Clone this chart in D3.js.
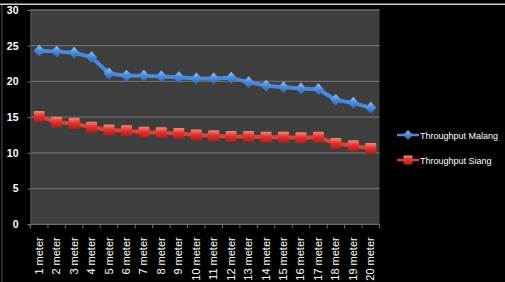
<!DOCTYPE html>
<html><head><meta charset="utf-8">
<script src="https://cdn.jsdelivr.net/npm/d3@7"></script>
<style>
html,body{margin:0;padding:0;background:#000;overflow:hidden;}
svg{display:block;}
</style></head>
<body>
<script>
const categories = ["1 meter","2 meter","3 meter","4 meter","5 meter","6 meter","7 meter","8 meter","9 meter","10 meter","11 meter","12 meter","13 meter","14 meter","15 meter","16 meter","17 meter","18 meter","19 meter","20 meter"];
const malang = [24.3,24.2,24.0,23.4,21.1,20.8,20.8,20.7,20.6,20.4,20.4,20.5,19.9,19.4,19.2,19.0,18.9,17.4,17.0,16.3];
const siang = [15.1,14.3,14.1,13.6,13.2,13.1,12.9,12.8,12.7,12.5,12.4,12.3,12.3,12.2,12.2,12.1,12.2,11.3,11.0,10.6];
const yTicks = [0,5,10,15,20,25,30];
const seriesNames = ["Throughput Malang","Throughput Siang"];

(function(){
const W=505,H=282;
const svg=d3.select("body").append("svg").attr("width",W).attr("height",H);
svg.append("rect").attr("width",W).attr("height",H).attr("fill","#000");
svg.append("rect").attr("x",0).attr("y",3.5).attr("width",W).attr("height",1.5).attr("fill","#cfcfcf");
svg.append("rect").attr("x",1.5).attr("y",5).attr("width",1).attr("height",H).attr("fill","#555");

const defs=svg.append("defs");
const gB=defs.append("linearGradient").attr("id","gb").attr("x1",0).attr("y1",0).attr("x2",0).attr("y2",1);
gB.append("stop").attr("offset","0").attr("stop-color","#9cc4f2");
gB.append("stop").attr("offset","0.45").attr("stop-color","#4a8fe0");
gB.append("stop").attr("offset","1").attr("stop-color","#2a66b8");
const gR=defs.append("linearGradient").attr("id","gr").attr("x1",0).attr("y1",0).attr("x2",0).attr("y2",1);
gR.append("stop").attr("offset","0").attr("stop-color","#f08a80");
gR.append("stop").attr("offset","0.45").attr("stop-color","#e0332b");
gR.append("stop").attr("offset","1").attr("stop-color","#b01e1a");

const pl=30.5,pr=379.5,pt=10,pb=224.3;
const x=d3.scaleBand().domain(categories).range([pl,pr]).padding(0);
const y=d3.scaleLinear().domain([0,30]).range([pb,pt]);

svg.append("rect").attr("x",pl).attr("y",pt).attr("width",pr-pl).attr("height",pb-pt).attr("fill","#3e3e3e");

svg.append("g").selectAll("line").data(yTicks.filter(d=>d>0)).join("line")
 .attr("x1",pl).attr("x2",pr).attr("y1",d=>y(d)).attr("y2",d=>y(d))
 .attr("stroke","#6e6e6e").attr("stroke-width",1.3);

const ya=svg.append("g").attr("transform",`translate(${pl},0)`)
 .call(d3.axisLeft(y).tickValues(yTicks).tickSize(3).tickPadding(9));
ya.select(".domain").attr("stroke","#555");
ya.selectAll(".tick line").attr("stroke","#777");
ya.selectAll("text").attr("fill","#fff").attr("font-family","Liberation Sans, Arial, sans-serif").attr("font-size","10.5px").attr("font-weight","bold");

const xa=svg.append("g").attr("transform",`translate(0,${pb})`);
xa.append("line").attr("x1",pl).attr("x2",pr).attr("stroke","#6e6e6e").attr("stroke-width",1.3);
xa.selectAll("line.tk").data(d3.range(categories.length+1)).join("line").attr("class","tk")
 .attr("x1",i=>pl+i*x.bandwidth()).attr("x2",i=>pl+i*x.bandwidth()).attr("y1",0).attr("y2",4).attr("stroke","#777");
xa.selectAll("text").data(categories).join("text")
 .attr("transform",d=>`translate(${x(d)+x.bandwidth()/2+3.5},13) rotate(-90)`)
 .attr("text-anchor","end").attr("fill","#fff")
 .attr("font-family","Liberation Sans, Arial, sans-serif").attr("font-size","11px").text(d=>d);

const cx=d=>x(d)+x.bandwidth()/2;
const line=d3.line().x((v,i)=>cx(categories[i])).y(v=>y(v));

function drawSeries(data,color,grad,shape){
  svg.append("path").attr("d",line(data)).attr("fill","none").attr("stroke",color).attr("stroke-width",4).attr("stroke-linejoin","round");
  const g=svg.append("g");
  data.forEach((v,i)=>{
    const px=cx(categories[i]),py=y(v);
    if(shape==="diamond"){
      g.append("path").attr("d",`M${px},${py-6}L${px+5.5},${py}L${px},${py+6}L${px-5.5},${py}Z`).attr("fill",`url(#${grad})`);
    } else {
      g.append("rect").attr("x",px-5.5).attr("y",py-5.5).attr("width",11).attr("height",11).attr("rx",1).attr("fill",`url(#${grad})`);
    }
  });
}
drawSeries(malang,"#4a88d8","gb","diamond");
drawSeries(siang,"#d8433a","gr","square");

const lg=svg.append("g");
const items=[{n:seriesNames[0],c:"#4a88d8",g:"gb",s:"diamond",y:135},{n:seriesNames[1],c:"#d8433a",g:"gr",s:"square",y:160}];
items.forEach(it=>{
  lg.append("line").attr("x1",397).attr("x2",419).attr("y1",it.y).attr("y2",it.y).attr("stroke",it.c).attr("stroke-width",2.5);
  const px=408,py=it.y;
  if(it.s==="diamond") lg.append("path").attr("d",`M${px},${py-5}L${px+4.5},${py}L${px},${py+5}L${px-4.5},${py}Z`).attr("fill",`url(#${it.g})`);
  else lg.append("rect").attr("x",px-4.5).attr("y",py-4.5).attr("width",9).attr("height",9).attr("fill",`url(#${it.g})`);
  lg.append("text").attr("x",420).attr("y",py+3.5).attr("fill","#fff").attr("font-family","Liberation Sans, Arial, sans-serif").attr("font-size","9px").text(it.n);
});
})();
</script>
</body></html>
